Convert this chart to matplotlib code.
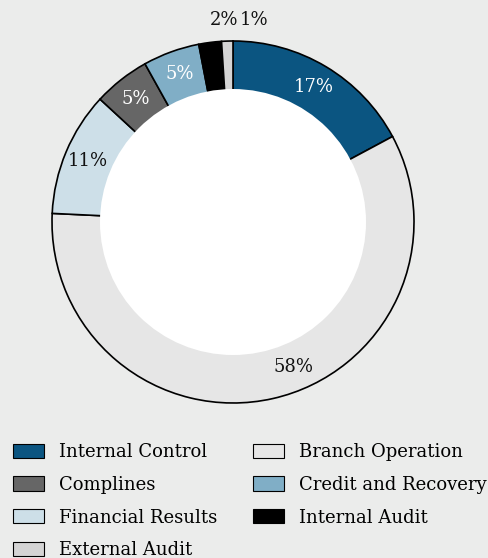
import matplotlib
matplotlib.use("Agg")
import matplotlib.pyplot as plt
from matplotlib.patches import Circle, Patch
import numpy as np

categories = ["Internal Control", "Branch Operation", "Financial Results", "Complines",
              "Credit and Recovery", "Internal Audit", "External Audit"]
values = [17, 58, 11, 5, 5, 2, 1]
colors = ["#0b5581", "#e6e6e6", "#cddfe8", "#666666", "#80aec6", "#000000", "#d4d4d4"]
label_colors = ["white", "#111111", "#111111", "white", "white", "#111111", "#111111"]
legend_col1 = ["Internal Control", "Complines", "Financial Results", "External Audit"]
legend_col2 = ["Branch Operation", "Credit and Recovery", "Internal Audit"]

bg = "#ebeceb"
W, H = 489, 558
plt.rcParams["font.family"] = ["DejaVu Serif"]
fig = plt.figure(figsize=(W / 100, H / 100), dpi=100, facecolor=bg)

cx, cy, R = 233, 222, 181
half = 200
ax = fig.add_axes([(cx - half) / W, (H - cy - half) / H, 2 * half / W, 2 * half / H])
ax.set_facecolor(bg)

wedges, _ = ax.pie(values, colors=colors, startangle=90, counterclock=False, radius=1.0,
                   wedgeprops=dict(edgecolor="black", linewidth=1.2))
lim = half / R
ax.set_xlim(-lim, lim)
ax.set_ylim(-lim, lim)
ax.set_aspect("equal")
ax.axis("off")
inner = 133 / R
ax.add_patch(Circle((0, 0), inner, facecolor="white", edgecolor="none", zorder=5))

total = sum(values)
start = 90.0
# small slices get their labels above the ring, nudged apart horizontally
outside_offsets = {2: 0.09, 1: 0.15}
angle_shift = {58: 10.0}
for v, lc in zip(values, label_colors):
    ang = start - v / total * 360 / 2 + angle_shift.get(v, 0.0)
    start -= v / total * 360
    rad = np.deg2rad(ang)
    if v >= 5:
        r = (1 + inner) / 2
        ax.text(r * np.cos(rad), r * np.sin(rad), f"{v}%", color=lc, ha="center", va="center",
                fontsize=13, zorder=6)
    else:
        x = 1.11 * np.cos(rad) + outside_offsets[v]
        ax.text(x, 1.116, f"{v}%", color=lc, ha="center", va="center",
                fontsize=13, zorder=6, clip_on=False)


def make_legend(labels, xpix):
    handles = [Patch(facecolor=colors[categories.index(c)], edgecolor="black", linewidth=0.8)
               for c in labels]
    return fig.legend(handles, labels, ncol=1, loc="upper left",
                      bbox_to_anchor=(xpix / W, 1 - 443 / H), frameon=False, fontsize=13,
                      handlelength=1.72, handleheight=0.83, handletextpad=0.83,
                      labelspacing=0.82, borderpad=0, borderaxespad=0)


make_legend(legend_col1, 13)
make_legend(legend_col2, 253)

fig.savefig("out.png", dpi=100, facecolor=bg)
